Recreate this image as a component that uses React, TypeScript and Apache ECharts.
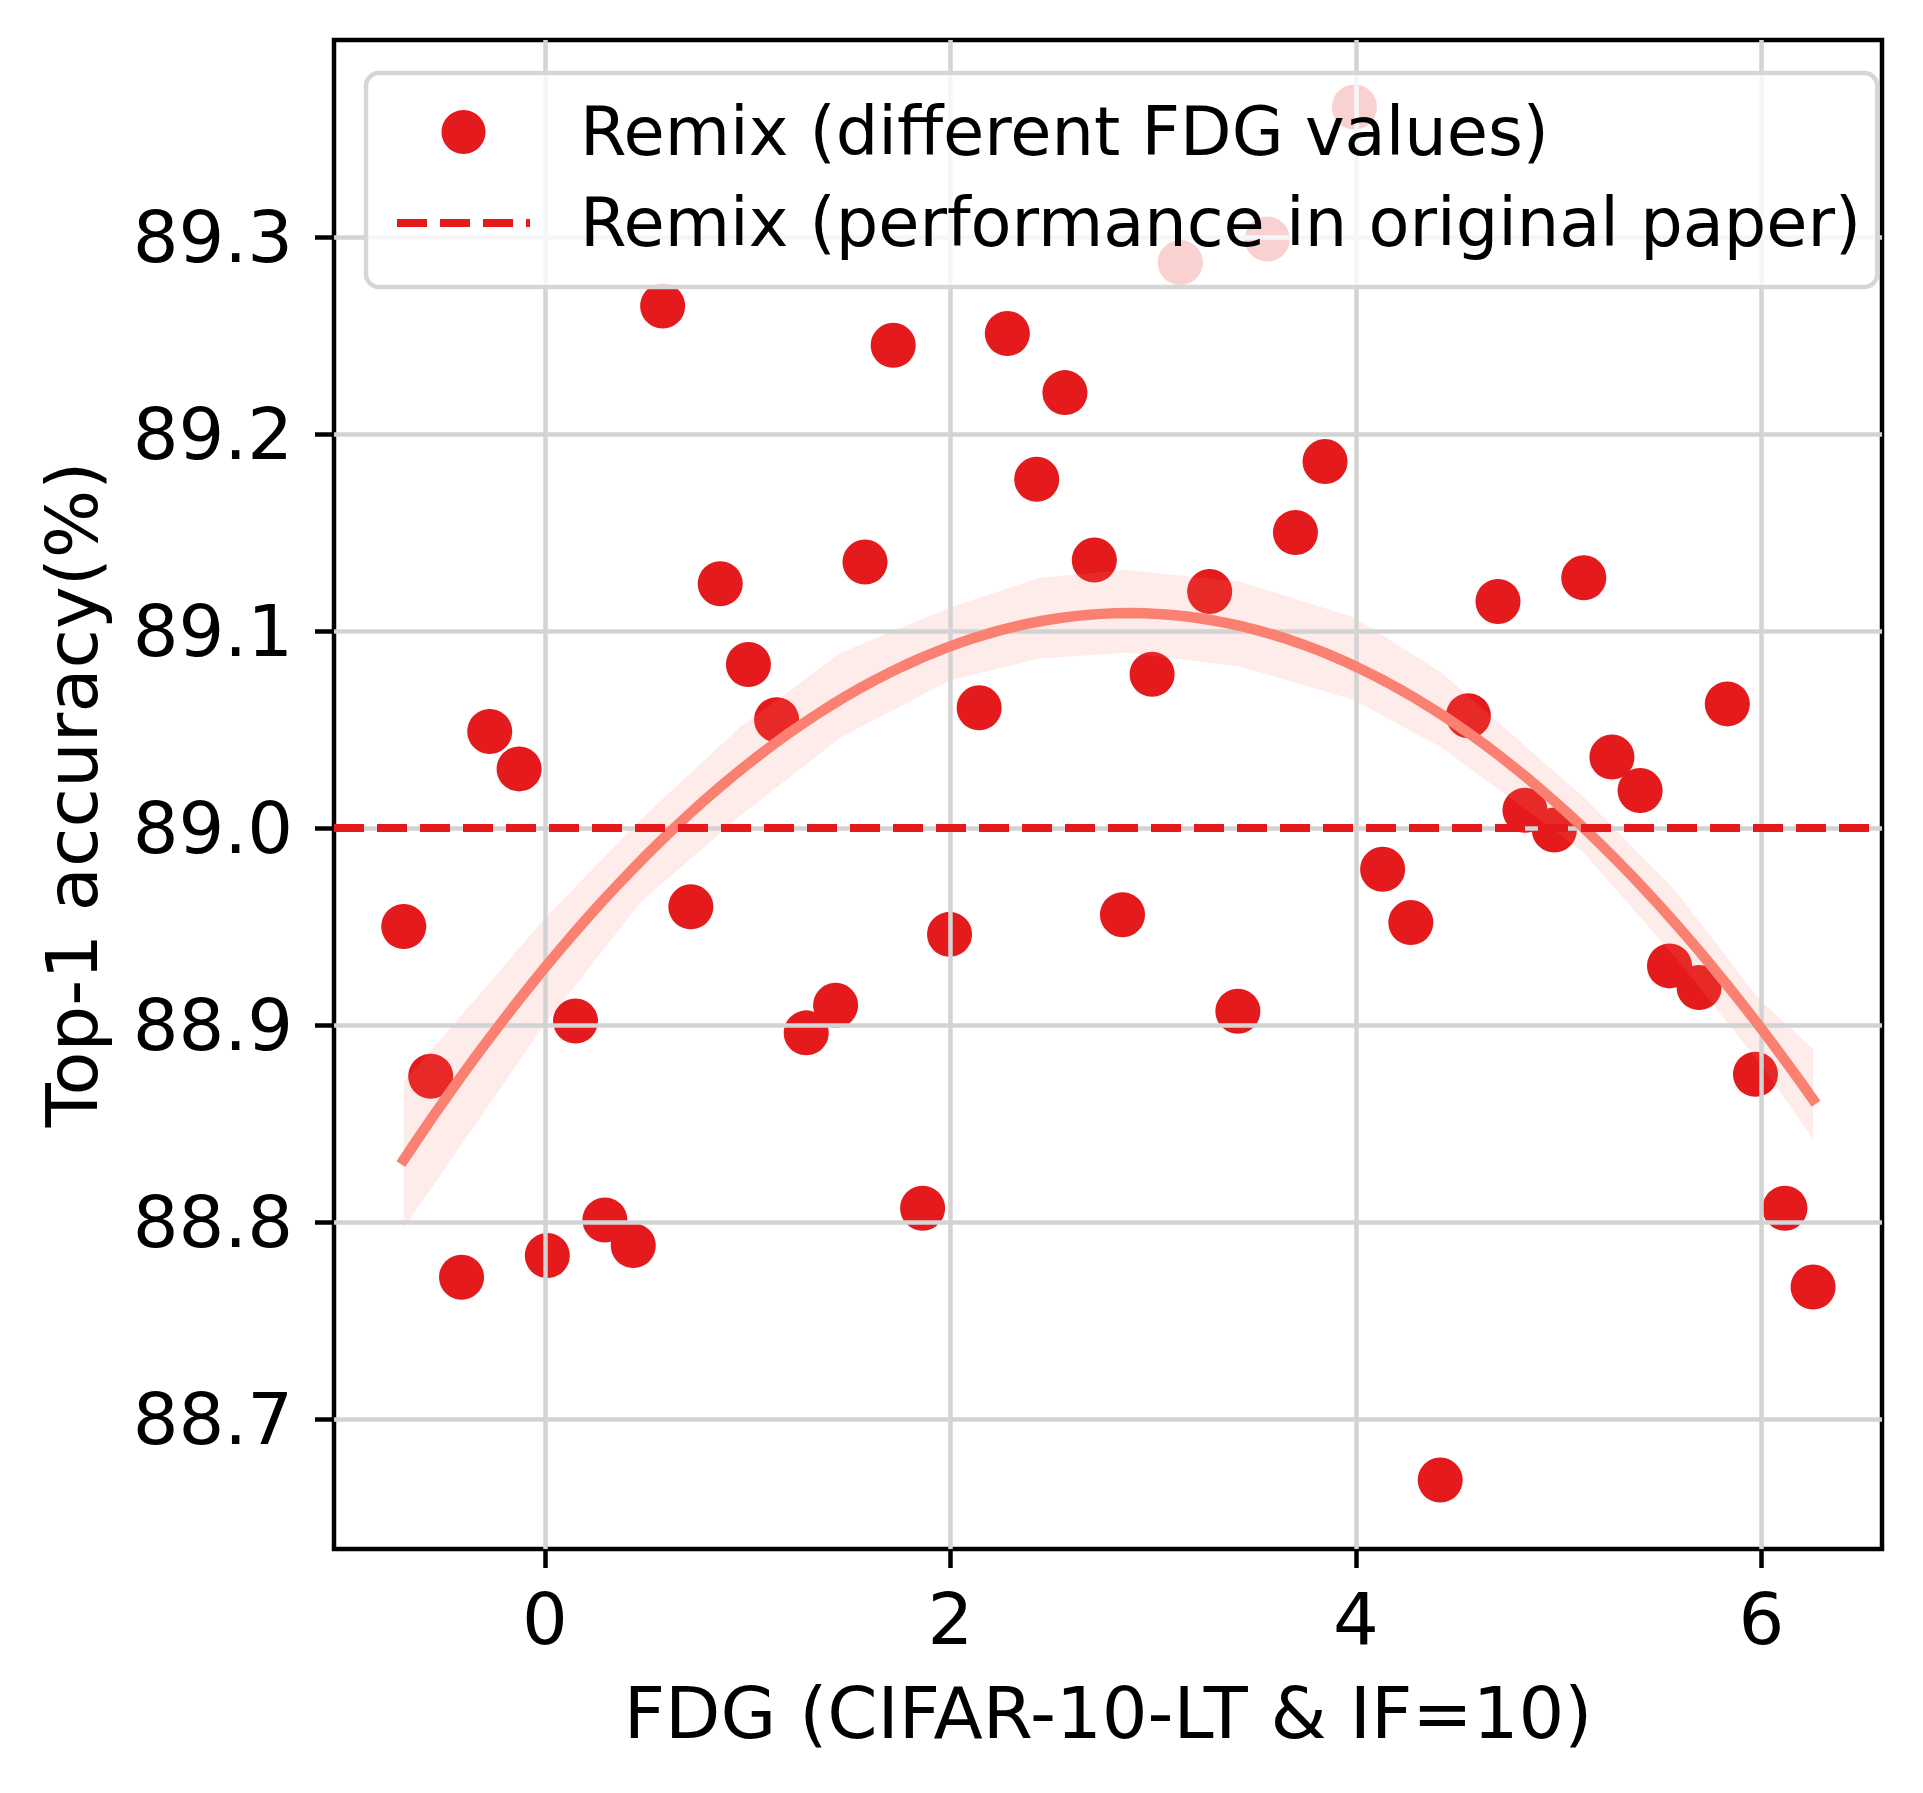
import React, { useEffect, useRef } from 'react';
import * as echarts from 'echarts';

const FONT = 'DejaVu Sans';

// Scatter data: FDG values and Top-1 accuracy (%)
const fdgValues = [
  -0.696, -0.563, -0.411, -0.272, -0.127, 0.012, 0.151, 0.296, 0.436, 0.581,
  0.720, 0.865, 1.004, 1.143, 1.289, 1.434, 1.579, 1.718, 1.863, 1.996,
  2.142, 2.281, 2.426, 2.565, 2.710, 2.849, 2.995, 3.134, 3.279, 3.418,
  3.563, 3.702, 3.848, 3.993, 4.132, 4.271, 4.416, 4.555, 4.701, 4.834,
  4.979, 5.124, 5.263, 5.402, 5.547, 5.693, 5.832, 5.971, 6.116, 6.255,
];
const accValues = [
  88.950, 88.874, 88.772, 89.049, 89.030, 88.783, 88.902, 88.801, 88.788, 89.265,
  88.960, 89.124, 89.083, 89.055, 88.896, 88.910, 89.135, 89.245, 88.807, 88.946,
  89.061, 89.251, 89.177, 89.221, 89.136, 88.956, 89.078, 89.287, 89.120, 88.907,
  89.299, 89.150, 89.186, 89.366, 88.979, 88.952, 88.669, 89.057, 89.115, 89.009,
  88.999, 89.127, 89.036, 89.019, 88.930, 88.919, 89.063, 88.875, 88.807, 88.767,
];

// Confidence band of the quadratic fit
const bandX = [-0.696, -0.01, 0.47, 0.96, 1.46, 2.0, 2.44, 2.87, 3.43, 3.99, 4.42, 5.12, 5.57, 5.99, 6.255];
const bandLow = [88.797, 88.899, 88.962, 89.006, 89.046, 89.075, 89.086, 89.089, 89.082, 89.065, 89.041, 88.988, 88.935, 88.881, 88.842];
const bandHigh = [88.871, 88.953, 89.004, 89.051, 89.089, 89.112, 89.127, 89.131, 89.125, 89.107, 89.079, 89.016, 88.969, 88.913, 88.888];

// Reference performance in original paper
const paperValue = 89.0;

const xTicks = [0, 2, 4, 6];
const yTicks = [88.7, 88.8, 88.9, 89.0, 89.1, 89.2, 89.3];

const X_MIN = -1.04;
const X_MAX = 6.595;
const Y_MIN = 88.634;
const Y_MAX = 89.4;

const SCATTER_NAME = 'Remix (different FDG values)';
const PAPER_NAME = 'Remix (performance in original paper)';

// Second-order least-squares regression of the scatter data (as regplot order=2 does)
function quadraticFit(xs: number[], ys: number[]) {
  const n = xs.length;
  const mx = xs.reduce((a, b) => a + b, 0) / n;
  const S = [0, 0, 0, 0, 0];
  const T = [0, 0, 0];
  for (let i = 0; i < n; i++) {
    const u = xs[i] - mx;
    let p = 1;
    for (let k = 0; k < 5; k++) {
      S[k] += p;
      if (k < 3) T[k] += ys[i] * p;
      p *= u;
    }
  }
  const M = [
    [S[0], S[1], S[2], T[0]],
    [S[1], S[2], S[3], T[1]],
    [S[2], S[3], S[4], T[2]],
  ];
  for (let c = 0; c < 3; c++) {
    for (let r = c + 1; r < 3; r++) {
      const f = M[r][c] / M[c][c];
      for (let k = c; k < 4; k++) M[r][k] -= f * M[c][k];
    }
  }
  const b = [0, 0, 0];
  for (let r = 2; r >= 0; r--) {
    let s = M[r][3];
    for (let k = r + 1; k < 3; k++) s -= M[r][k] * b[k];
    b[r] = s / M[r][r];
  }
  return (x: number) => {
    const u = x - mx;
    return b[0] + b[1] * u + b[2] * u * u;
  };
}

export default function App() {
  const ref = useRef<HTMLDivElement>(null);

  useEffect(() => {
    document.body.style.margin = '0';
    const chart = echarts.init(ref.current as HTMLDivElement, null, { renderer: 'svg' });

    const fit = quadraticFit(fdgValues, accValues);
    const xLo = Math.min(...fdgValues);
    const xHi = Math.max(...fdgValues);
    const fitData: number[][] = [];
    for (let i = 0; i < 100; i++) {
      const x = xLo + ((xHi - xLo) * i) / 99;
      fitData.push([x, fit(x)]);
    }

    const gridLines = [
      ...xTicks.map((v) => ({ xAxis: v })),
      ...yTicks.map((v) => ({ yAxis: v })),
    ];

    const option = {
      animation: false,
      textStyle: { fontFamily: FONT },
      grid: {
        left: 334,
        top: 40,
        width: 1548,
        height: 1509,
        show: true,
        borderColor: '#000',
        borderWidth: 4.5,
        backgroundColor: 'transparent',
        containLabel: false,
      },
      legend: {
        orient: 'vertical',
        left: 366,
        top: 73,
        padding: [19, 16, 24, 27],
        itemWidth: 133,
        itemHeight: 44,
        itemGap: 11,
        backgroundColor: 'rgba(255,255,255,0.8)',
        borderColor: '#d6d6d6',
        borderWidth: 4.5,
        borderRadius: 13,
        z: 20,
        selectedMode: false,
        lineStyle: { width: 'inherit', type: 'inherit' },
        textStyle: {
          fontFamily: FONT,
          fontSize: 67,
          color: '#000',
          lineHeight: 80,
          padding: [0, 0, 0, 45],
        },
        data: [SCATTER_NAME, PAPER_NAME],
      },
      xAxis: {
        type: 'value',
        min: X_MIN,
        max: X_MAX,
        axisLine: { show: false, onZero: false },
        axisTick: {
          show: true,
          customValues: xTicks,
          length: 19,
          lineStyle: { color: '#000', width: 4.5 },
        },
        axisLabel: {
          customValues: xTicks,
          margin: 34,
          fontSize: 72,
          lineHeight: 72,
          color: '#000',
          fontFamily: FONT,
          formatter: (v: number) => String(v),
        },
        splitLine: { show: false },
        name: 'FDG (CIFAR-10-LT & IF=10)',
        nameLocation: 'middle',
        nameGap: 128,
        nameTextStyle: { fontSize: 72, lineHeight: 72, color: '#000', fontFamily: FONT },
      },
      yAxis: {
        type: 'value',
        min: Y_MIN,
        max: Y_MAX,
        axisLine: { show: false, onZero: false },
        axisTick: {
          show: true,
          customValues: yTicks,
          length: 19,
          lineStyle: { color: '#000', width: 4.5 },
        },
        axisLabel: {
          customValues: yTicks,
          margin: 41,
          fontSize: 72,
          lineHeight: 72,
          color: '#000',
          fontFamily: FONT,
          formatter: (v: number) => v.toFixed(1),
        },
        splitLine: { show: false },
        name: 'Top-1 accuracy(%)',
        nameLocation: 'middle',
        nameGap: 226,
        nameTextStyle: { fontSize: 72, lineHeight: 72, color: '#000', fontFamily: FONT },
      },
      series: [
        {
          name: SCATTER_NAME,
          type: 'scatter',
          z: 2,
          symbol: 'circle',
          symbolSize: 45,
          silent: true,
          itemStyle: { color: '#e41a1c', opacity: 1 },
          data: fdgValues.map((x, i) => [x, accValues[i]]),
          markLine: {
            silent: true,
            z: 4,
            symbol: ['none', 'none'],
            label: { show: false },
            emphasis: { disabled: true },
            lineStyle: { color: '#d3d3d3', width: 4.5, type: 'solid' },
            data: gridLines,
          },
        },
        {
          name: 'ci-band',
          type: 'custom',
          z: 3,
          silent: true,
          data: [[bandX[0], bandLow[0]]],
          renderItem: (_params: any, api: any) => {
            const upper = bandX.map((x, i) => api.coord([x, bandHigh[i]]));
            const lower = bandX.map((x, i) => api.coord([x, bandLow[i]])).reverse();
            return {
              type: 'polygon',
              shape: { points: upper.concat(lower) },
              style: { fill: 'rgba(250,128,114,0.15)', stroke: 'none' },
            };
          },
        },
        {
          name: 'fit',
          type: 'custom',
          z: 5,
          silent: true,
          data: [fitData[0]],
          renderItem: (_params: any, api: any) => {
            const pts = fitData.map((d) => api.coord(d));
            return {
              type: 'polyline',
              shape: { points: pts },
              style: {
                stroke: '#fa8072',
                lineWidth: 10.5,
                fill: 'none',
                lineCap: 'square',
                lineJoin: 'round',
              },
            };
          },
        },
        {
          name: PAPER_NAME,
          type: 'line',
          z: 6,
          symbol: 'none',
          showSymbol: false,
          silent: true,
          itemStyle: { color: '#e41a1c', opacity: 0 },
          lineStyle: { color: '#e41a1c', width: 8, type: [30, 13], opacity: 1 },
          data: [
            [X_MIN, paperValue],
            [X_MAX, paperValue],
          ],
        },
      ],
    };

    chart.setOption(option as any);
    return () => chart.dispose();
  }, []);

  return <div ref={ref} style={{ width: 1923, height: 1793 }} />;
}
